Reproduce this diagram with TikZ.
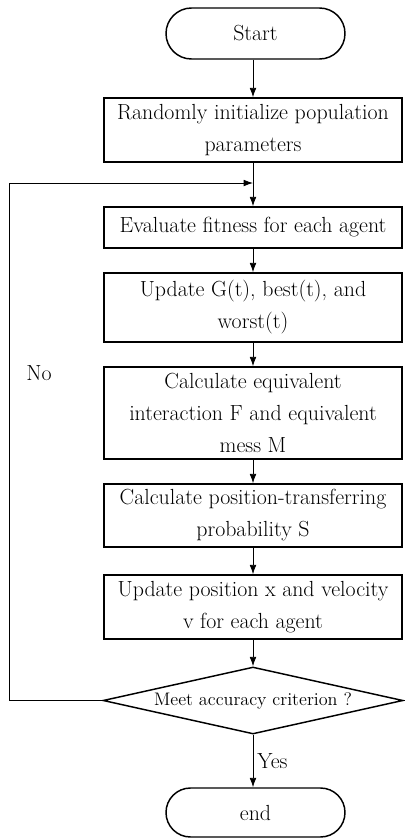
\documentclass[tikz,border=0pt]{standalone}
\usetikzlibrary{shapes.geometric,shapes.misc,arrows.meta}
\begin{document}
\begin{tikzpicture}[x=0.75pt,y=-0.75pt,
  box/.style={draw,line width=1.1pt,rectangle,minimum width=298*0.75pt,align=center,inner sep=0pt,font=\fontsize{16.4}{24}\selectfont},
  term/.style={draw,line width=1.1pt,rounded rectangle,minimum width=179*0.75pt,inner sep=0pt,font=\fontsize{16.4}{24}\selectfont},
  dec/.style={draw,line width=1.1pt,diamond,shape aspect=4.5,minimum width=300*0.75pt,minimum height=67*0.75pt,inner sep=0pt,font=\fontsize{13.6}{16}\selectfont},
  arr/.style={-{Latex[length=7pt,width=5pt]},line width=0.6pt},
  lbl/.style={font=\fontsize{16.4}{19.5}\selectfont}]
\useasboundingbox (0,0) rectangle (404,840);
\node[term,minimum height=51*0.75pt] (start) at (255.5,33.5) {Start};
\node[box,minimum height=64*0.75pt] (b1) at (253,130) {Randomly initialize population\\parameters};
\coordinate (j) at (253,183);
\node[box,minimum height=41*0.75pt] (b2) at (253,227.5) {Evaluate fitness for each agent};
\node[box,minimum height=69*0.75pt] (b3) at (253,307.5) {Update G(t), best(t), and\\worst(t)};
\node[box,minimum height=92*0.75pt] (b4) at (253,413) {Calculate equivalent\\interaction F and equivalent\\mess M};
\node[box,minimum height=63*0.75pt] (b5) at (253,515.5) {Calculate position-transferring\\probability S};
\node[box,minimum height=64*0.75pt] (b6) at (253,607) {Update position x and velocity\\v for each agent};
\node[dec] (d) at (253,700.5) {Meet accuracy criterion ?};
\node[term,minimum height=49*0.75pt] (end) at (255.5,812.5) {end};
\coordinate (c1) at (9,700.5);
\coordinate (c2) at (9,183);
\draw[arr] (start.south -| b1) -- (b1);
\draw[arr] (b1) -- (b2);
\draw[arr] (b2) -- (b3);
\draw[arr] (b3) -- (b4);
\draw[arr] (b4) -- (b5);
\draw[arr] (b5) -- (b6);
\draw[arr] (b6) -- (d);
\draw[arr] (d) -- (d.south |- end.north) node[lbl,midway,right,inner sep=3pt] {Yes};
\draw[arr] (d.west) -- (c1) -- (c2) -- (j);
\node[lbl] (no) at (39,373) {No};
\end{tikzpicture}
\end{document}
